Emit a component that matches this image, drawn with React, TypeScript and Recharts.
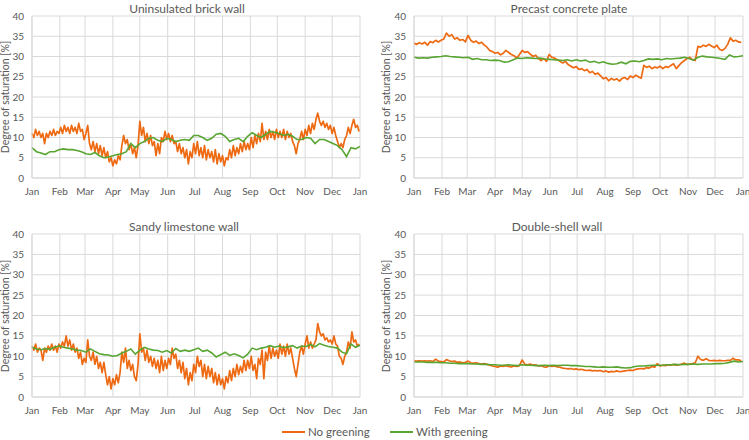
import { LineChart, Line, XAxis, YAxis, CartesianGrid } from "recharts";

// x positions of month ticks (day of year) and their labels
const MONTH_DAYS = [0, 31, 59, 90, 120, 151, 181, 212, 243, 273, 304, 334, 365];
const MONTH_LABELS = ["Jan", "Feb", "Mar", "Apr", "May", "Jun", "Jul", "Aug", "Sep", "Oct", "Nov", "Dec", "Jan"];
const Y_TICKS = [0, 5, 10, 15, 20, 25, 30, 35, 40];

// sampling interval in days of the values
const NOISY_STEP = 2; // brick + limestone "No greening"
const CALM_STEP = 3; // concrete + double-shell "No greening"
const WITH_GREEN_STEP = 5;

const brickNoGreening = [
  11, 10, 12, 10.5, 11.5, 10, 11, 8.5, 11, 10,
  11.5, 10.5, 12, 10.5, 11.5, 11, 12.5, 11, 13, 11.5,
  12.5, 11, 13, 11.5, 12.5, 11, 13.5, 11.5, 12, 9.5,
  11, 13, 8.5, 7, 9, 6.5, 8.5, 6, 8, 5.5,
  7.5, 5, 6.5, 4, 5, 3, 4.5, 3.5, 5.5, 4.5,
  8, 10.5, 8.5, 9.5, 7, 8.5, 6, 7.5, 5, 8,
  14, 10.5, 12.5, 9, 11, 8.5, 10.5, 8, 9, 5.5,
  8.5, 6, 10, 9, 11.5, 9.5, 11, 9, 10.5, 8.5,
  9, 6.5, 8.5, 6, 7.5, 5, 7, 3.5, 6.5, 5,
  8.5, 6, 9, 5.5, 7.5, 5, 8, 4.5, 7, 5,
  6.5, 4, 7, 3.5, 6, 4, 5.5, 3, 5, 4.5,
  7, 5, 8, 5.5, 7.5, 6, 8.5, 6.5, 9, 7,
  8.5, 7, 10, 7.5, 10.5, 8.5, 11, 9, 13.5, 9.5,
  11.5, 9.5, 12, 10, 11.5, 9.5, 12, 10, 11.5, 10,
  12, 9.5, 11.5, 10, 11, 9, 8, 6, 8.5, 9.5,
  11.5, 9.5, 12, 10.5, 13, 11, 13.5, 12, 14.5, 16,
  14, 13, 14, 12.5, 13.5, 12, 13, 11, 12.5, 10.5,
  9, 7.5, 8.5, 7.5, 9.5, 10.5, 12.5, 11, 13, 14.5,
  12.5, 13, 11.5,
];
const brickWithGreening = [
  7.5, 6.5, 6.2, 5.8, 6.5, 6.5, 7, 7.2, 7, 7,
  6.8, 6.5, 6, 5.8, 6.3, 5.5, 5, 5.2, 5.5, 5.8,
  6, 6.5, 8.5, 7.5, 8.5, 9, 9.8, 10, 9.3, 9,
  9.8, 9.5, 9, 9.3, 9.5, 9.3, 10.5, 10.5, 10, 9.3,
  9.8, 10.8, 11, 10.3, 9, 9.5, 9.8, 9, 10.3, 11.2,
  10.5, 10, 10.8, 11.5, 11.3, 11, 10.5, 10.8, 10.3, 9.5,
  9.5, 10, 9.8, 8.5, 9.5, 9.5, 9, 8.5, 8, 7,
  5.3, 7.5, 7.2, 7.8,
];

const concreteNoGreening = [
  33.3, 33, 33.4, 33.1, 33.5, 32.8, 33.7, 33.4, 34, 33.6, 34,
  34.3, 35.8, 35, 35.4, 34.3, 34.6, 34, 34.2, 33.6,
  35.2, 34, 33.5, 33.8, 33.2, 33.5, 32.8, 32.3, 31.5, 31.2,
  30.8, 31, 30.4, 30.8, 31.5, 31, 30.5, 30.2, 29.6, 30.5,
  31.5, 31, 31.2, 30.6, 30, 30.3, 29.5, 29, 29.5, 28.8,
  30.5, 29.8, 29.6, 29.2, 28.8, 28.4, 28.8, 28, 27.6, 27.2,
  27.5, 26.8, 27, 26.5, 26.8, 26, 26.3, 25.6, 25.9, 25.2,
  24.5, 24.8, 24, 24.6, 24.2, 24.5, 23.9, 24.6, 24.8, 24.3,
  25.2, 24.8, 25.4, 25, 24.6, 27.8, 27.3, 27.6, 27, 27.4,
  27.2, 27.6, 27, 27.5, 27.3, 27.8, 28.2, 27, 27.8, 28.5,
  29, 29.5, 29.8, 29.2, 29, 32.5, 32.3, 32.8, 32.5, 33,
  32.6, 32.2, 32.8, 31.8, 31.5, 32, 33, 34.6, 33.8, 34, 33.6, 33.5,
];
const concreteWithGreening = [
  29.8, 29.6, 29.7, 29.6, 29.8, 29.9, 30, 30.2, 30, 29.9,
  29.8, 29.7, 29.8, 29.3, 29.5, 29.2, 29.2, 29, 29.1, 29,
  28.6, 28.7, 29.2, 29.6, 29.5, 29.7, 29.6, 29.5, 29.6, 29.4,
  29.3, 29.2, 29.1, 29, 29.2, 28.9, 29.2, 28.9, 29.1, 28.6,
  28.8, 28.4, 28.7, 28.3, 28.1, 28.2, 28.6, 28.2, 28.8, 28.9,
  28.7, 29, 29.4, 29.3, 29.4, 29.2, 29.5, 29.4, 29.5, 29.6,
  29.8, 29.5, 29.1, 29.8, 30.1, 29.9, 29.8, 29.7, 29.5, 29.3,
  30.4, 29.9, 30, 30.2,
];

const limestoneNoGreening = [
  12.5, 11.5, 13, 11, 12, 11.5, 9, 12, 11, 12.5,
  11.5, 13, 11.5, 12.5, 11, 13, 12, 13.5, 12.5, 15,
  12.5, 14, 11.5, 13, 11, 12, 9.5, 11, 8, 9.5,
  8.5, 14, 10, 9, 11, 8, 10, 7, 8.5, 6,
  8.5, 5.5, 3, 5, 2, 4.5, 3, 5.5, 3.5, 6,
  11, 8.5, 12, 7, 9, 6.5, 8, 5, 4, 8,
  15.5, 11, 12, 9, 11.5, 8.5, 10, 7.5, 9.5, 7,
  9, 6, 10, 6.5, 9, 7, 9.5, 8, 12, 9.5,
  10.5, 7, 9, 6, 8.5, 4.5, 7, 3, 6, 4,
  8, 6, 10, 7.5, 9, 5, 8, 4.5, 7.5, 5,
  7, 3.5, 6, 3, 5.5, 3, 4.5, 2, 5, 3.5,
  6.5, 4, 7, 5, 8, 5.5, 7.5, 6, 9, 6.5,
  9, 7, 10, 6.5, 8, 4.5, 9.5, 8, 11.5, 4.5,
  11, 9, 12.5, 9.5, 12, 10, 11.5, 9.5, 13, 10.5,
  12.5, 10, 13, 10.5, 12, 9.5, 7, 5, 8, 11,
  12.5, 10.5, 13, 15, 12, 13.5, 12, 13, 14, 18,
  16, 15, 15.5, 14, 14.5, 13.5, 14, 13, 15, 13,
  12.5, 10, 9.5, 8, 10, 11, 13.5, 12, 16, 13.5,
  14, 12.5, 13,
];
const limestoneWithGreening = [
  12.2, 11.8, 11.6, 11.9, 11.7, 12.2, 12.5, 12.2, 12, 11.8,
  11.5, 11.4, 11, 11.8, 11.2, 10.6, 10.4, 10.3, 10, 10.2,
  10.8, 11.2, 11.8, 10.5, 11.5, 12.2, 11.8, 11.5, 11.4, 11,
  11.4, 10.8, 11.9, 11.2, 11.5, 11.2, 11.6, 12, 11.2, 11.5,
  10.8, 9.8, 10.4, 11, 10.2, 10.6, 10.2, 9.6, 10.5, 12,
  11.6, 12, 12.2, 12.6, 12.2, 12.5, 12.1, 12.3, 12.6, 12,
  12.5, 12.4, 12.9, 12.3, 13.1, 12.7, 12.4, 12.2, 12, 11,
  10.6, 13, 12.2, 12.7,
];

const doubleShellNoGreening = [
  8.9, 8.8, 8.9, 8.8, 8.9, 8.8, 8.9, 8.7, 9.3, 8.8, 8.7,
  8.6, 9.2, 8.9, 8.7, 8.8, 8.5, 8.6, 8.4, 8.5,
  8.8, 8.4, 8.3, 8.4, 8.2, 8.1, 8.2, 8, 7.8, 7.6,
  7.5, 7.3, 7.6, 7.5, 7.7, 7.5, 7.4, 7.6, 7.5, 7.7,
  9.1, 8, 7.9, 8.1, 7.8, 7.9, 7.6, 7.7, 7.4, 7.3,
  7.7, 7.5, 7.6, 7.4, 7.3, 7.1, 7, 6.9, 7, 6.8,
  6.9, 6.7, 6.8, 6.6, 6.5, 6.6, 6.4, 6.5, 6.4, 6.5,
  6.2, 6.4, 6.1, 6.3, 6.2, 6.4, 6.2, 6.3, 6.4, 6.5,
  6.6, 6.5, 6.8, 6.9, 7, 6.9, 7.2, 7.1, 7.5, 7.3,
  8.2, 7.6, 7.8, 7.7, 7.9, 7.8, 8, 7.8, 7.9, 8.1,
  8.3, 8, 8.1, 8.2, 8.4, 10, 9.2, 9, 9.4, 9,
  8.9, 9, 8.9, 9, 8.9, 8.9, 9, 9, 9.5, 9.1, 9.1, 8.9,
];
const doubleShellWithGreening = [
  8.6, 8.6, 8.6, 8.5, 8.5, 8.5, 8.4, 8.4, 8.3, 8.3,
  8.2, 8.2, 8.2, 8.1, 8.1, 8, 8, 7.9, 7.9, 7.8,
  7.8, 7.9, 7.8, 7.7, 7.9, 7.8, 7.8, 7.7, 7.7, 7.8,
  7.7, 7.8, 7.7, 7.8, 7.8, 7.7, 7.7, 7.6, 7.5, 7.5,
  7.4, 7.3, 7.4, 7.3, 7.3, 7.4, 7.2, 7.1, 7.2, 7.5,
  7.6, 7.6, 7.7, 7.8, 7.8, 7.8, 7.9, 7.9, 8, 7.9,
  8, 8, 8.1, 8, 8.1, 8.1, 8.1, 8.2, 8.2, 8.3,
  8.5, 8.8, 8.6, 8.7,
];

const ORANGE = "#ee6a12";
const GREEN = "#58a531";
const GRID = "#d9d9d9";
const TEXT = "#595959";
const FONT = "Lato, 'Open Sans', sans-serif";

const toPoints = (values: number[], step: number) =>
  values.map((v, i) => ({ day: i * step, value: v }));

interface PanelProps {
  left: number;
  top: number;
  width: number;
  height: number;
  axisWidth: number;
  rightMargin: number;
  title: string;
  titleX: number;
  labelX: number;
  noGreening: number[];
  noGreeningStep: number;
  withGreening: number[];
}

function Panel(p: PanelProps) {
  const plotTop = 16;
  const plotBottom = p.height - 22;
  return (
    <div style={{ position: "absolute", left: p.left, top: p.top, width: p.width, height: p.height }}>
      <div
        style={{
          position: "absolute",
          left: p.titleX,
          top: 8,
          transform: "translate(-50%, -50%)",
          whiteSpace: "nowrap",
          fontSize: 12,
          fontWeight: 400,
          color: TEXT,
        }}
      >
        {p.title}
      </div>
      <div
        style={{
          position: "absolute",
          left: p.labelX,
          top: (plotTop + plotBottom) / 2,
          transform: "translate(-50%, -50%) rotate(-90deg)",
          whiteSpace: "nowrap",
          fontSize: 10.5,
          color: TEXT,
        }}
      >
        Degree of saturation [%]
      </div>
      <LineChart
        width={p.width}
        height={p.height}
        margin={{ top: plotTop, right: p.rightMargin, left: 0, bottom: 0 }}
        style={{ position: "absolute", left: 0, top: 0 }}
      >
        <CartesianGrid stroke={GRID} strokeWidth={1} />
        <XAxis
          dataKey="day"
          type="number"
          domain={[0, 365]}
          ticks={MONTH_DAYS}
          tickFormatter={(v: number) => MONTH_LABELS[MONTH_DAYS.indexOf(v)]}
          interval={0}
          height={22}
          tickLine={false}
          axisLine={{ stroke: GRID }}
          tick={{ fontSize: 10, fill: TEXT, fontFamily: FONT }}
          tickSize={8}
          allowDuplicatedCategory={false}
        />
        <YAxis
          type="number"
          domain={[0, 40]}
          ticks={Y_TICKS}
          interval={0}
          width={p.axisWidth}
          tickLine={false}
          axisLine={{ stroke: GRID }}
          tick={{ fontSize: 10, fill: TEXT, fontFamily: FONT }}
          tickSize={6}
        />
        <Line
          data={toPoints(p.noGreening, p.noGreeningStep)}
          dataKey="value"
          type="linear"
          stroke={ORANGE}
          strokeWidth={1.7}
          strokeLinejoin="round"
          dot={false}
          isAnimationActive={false}
        />
        <Line
          data={toPoints(p.withGreening, WITH_GREEN_STEP)}
          dataKey="value"
          type="linear"
          stroke={GREEN}
          strokeWidth={1.6}
          dot={false}
          isAnimationActive={false}
        />
      </LineChart>
    </div>
  );
}

export default function App() {
  return (
    <div
      style={{
        position: "absolute",
        left: 0,
        top: 0,
        width: 749,
        height: 440,
        background: "#fff",
        fontFamily: FONT,
        overflow: "hidden",
      }}
    >
      <Panel left={0} top={0} width={375} height={200} axisWidth={32} rightMargin={15}
        title="Uninsulated brick wall" titleX={187} labelX={5}
        noGreening={brickNoGreening} noGreeningStep={NOISY_STEP} withGreening={brickWithGreening} />
      <Panel left={375} top={0} width={374} height={200} axisWidth={39} rightMargin={6}
        title="Precast concrete plate" titleX={194} labelX={11}
        noGreening={concreteNoGreening} noGreeningStep={CALM_STEP} withGreening={concreteWithGreening} />
      <Panel left={0} top={218} width={375} height={201} axisWidth={32} rightMargin={15}
        title="Sandy limestone wall" titleX={184} labelX={5}
        noGreening={limestoneNoGreening} noGreeningStep={NOISY_STEP} withGreening={limestoneWithGreening} />
      <Panel left={375} top={218} width={374} height={201} axisWidth={39} rightMargin={6}
        title="Double-shell wall" titleX={182} labelX={11}
        noGreening={doubleShellNoGreening} noGreeningStep={CALM_STEP} withGreening={doubleShellWithGreening} />

      <div
        style={{
          position: "absolute",
          left: 282,
          top: 425,
          display: "flex",
          alignItems: "center",
          fontSize: 11.5,
          color: TEXT,
          whiteSpace: "nowrap",
        }}
      >
        <span style={{ display: "inline-block", width: 23, height: 0, borderTop: `2px solid ${ORANGE}`, marginRight: 3 }} />
        <span style={{ width: 82 }}>No greening</span>
        <span style={{ display: "inline-block", width: 23, height: 0, borderTop: `2px solid ${GREEN}`, marginRight: 3 }} />
        <span>With greening</span>
      </div>
    </div>
  );
}
